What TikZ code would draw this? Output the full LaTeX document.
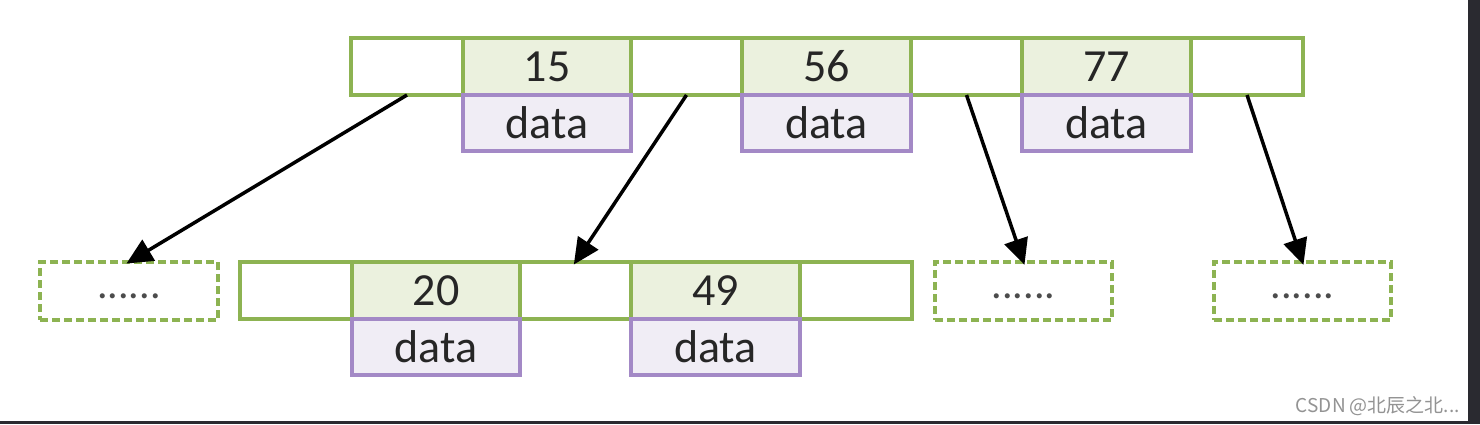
\documentclass[tikz,border=0pt]{standalone}
\usepackage{fontspec}
\setmainfont{Carlito}
\newfontfamily\cjkfont{Noto Sans CJK SC}
\usetikzlibrary{arrows.meta}
\definecolor{gborder}{HTML}{8DB352}
\definecolor{gfill}{HTML}{EBF1DE}
\definecolor{pborder}{HTML}{A389C6}
\definecolor{pfill}{HTML}{F0EDF5}
\definecolor{txt}{HTML}{262626}
\definecolor{frame}{HTML}{2A2A30}
\tikzset{
  cellbase/.style={anchor=north west, inner sep=0pt, outer sep=0pt, minimum height=57pt,
    line width=3.5pt, text=txt, font=\fontsize{46}{46}\selectfont},
  ptr/.style={cellbase, draw=gborder, fill=white},
  key/.style={cellbase, draw=gborder, fill=gfill},
  dat/.style={cellbase, draw=pborder, fill=pfill, minimum height=56pt},
  ghost/.style={cellbase, draw=gborder, dash pattern=on 8pt off 4pt, fill=white, minimum height=58pt},
  link/.style={line width=3.5pt, draw=black, -{Triangle[length=26pt,width=24pt]}, shorten >=-3pt}
}
\newcommand{\dotsfill}{\raisebox{-7pt}[0pt][0pt]{\fontsize{42}{42}\selectfont\color{black!70}......}}
\begin{document}
\begin{tikzpicture}[x=1pt,y=-1pt]
\useasboundingbox (0,0) rectangle (1480,424);
\fill[white] (0,0) rectangle (1480,424);
\fill[frame] (1468,0) rectangle (1480,424);
\fill[frame] (0,421) rectangle (1480,424);
% top node
\node[ptr, minimum width=112pt] (p0) at (351,38) {};
\node[key, minimum width=168pt] (k15) at (463,38) {15};
\node[ptr, minimum width=111pt] (p1) at (631,38) {};
\node[key, minimum width=169pt] (k56) at (742,38) {56};
\node[ptr, minimum width=111pt] (p2) at (911,38) {};
\node[key, minimum width=169pt] (k77) at (1022,38) {77};
\node[ptr, minimum width=112pt] (p3) at (1191,38) {};
\node[dat, minimum width=168pt] (d15) at (463,95) {data};
\node[dat, minimum width=169pt] (d56) at (742,95) {data};
\node[dat, minimum width=169pt] (d77) at (1022,95) {data};
% child node
\node[ptr, minimum width=112pt] (q0) at (240,262) {};
\node[key, minimum width=168pt] (k20) at (352,262) {20};
\node[ptr, minimum width=111pt] (q1) at (520,262) {};
\node[key, minimum width=169pt] (k49) at (631,262) {49};
\node[ptr, minimum width=112pt] (q2) at (800,262) {};
\node[dat, minimum width=168pt] (d20) at (352,319) {data};
\node[dat, minimum width=169pt] (d49) at (631,319) {data};
% placeholders
\node[ghost, minimum width=178pt] (g0) at (40,262) {\dotsfill};
\node[ghost, minimum width=177pt] (g1) at (935,262) {\dotsfill};
\node[ghost, minimum width=177pt] (g2) at (1214,262) {\dotsfill};
% links
\draw[link] (p0.south) -- (g0.north);
\draw[link] (p1.south) -- (q1.north);
\draw[link] (p2.south) -- (g1.north);
\draw[link] (p3.south) -- (g2.north);
% watermark
\node[anchor=base east, inner sep=0pt, text=gray!85, font=\cjkfont\fontsize{19}{19}\selectfont] (wm) at (1460,412) {CSDN @北辰之北...};
\end{tikzpicture}
\end{document}
